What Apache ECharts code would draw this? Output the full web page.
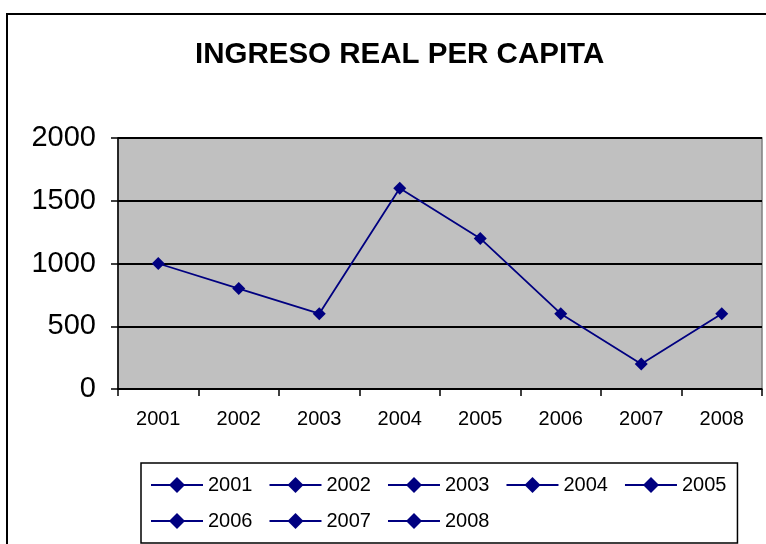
<!DOCTYPE html>
<html>
<head>
<meta charset="utf-8">
<script src="https://cdn.jsdelivr.net/npm/echarts@6/dist/echarts.min.js"></script>
<style>
  * { margin: 0; padding: 0; }
  body { background: #fff; }
</style>
</head>
<body>
<div id="chart" style="width:766px;height:544px;"></div>
<script>
// datos del grafico
var years = ['2001', '2002', '2003', '2004', '2005', '2006', '2007', '2008'];
var ingreso = [1000, 800, 600, 1600, 1200, 600, 200, 600];
var yTicks = [0, 500, 1000, 1500, 2000];

var navy = '#000080';
var font = 'Liberation Sans, Arial, sans-serif';

var chart = echarts.init(document.getElementById('chart'));

// serie principal + series vacias solo para la leyenda (como en Excel)
var series = [{
  name: 'Ingreso',
  type: 'line',
  data: ingreso,
  symbol: 'diamond',
  symbolSize: 13,
  color: navy,
  lineStyle: { color: navy, width: 1.8 },
  itemStyle: { color: navy },
  z: 5
}];
years.forEach(function (y) {
  series.push({
    name: y,
    type: 'line',
    data: [],
    symbol: 'diamond',
    symbolSize: 13,
    color: navy,
    lineStyle: { color: navy, width: 1.8 },
    itemStyle: { color: navy }
  });
});

chart.setOption({
  animation: false,
  textStyle: { fontFamily: font },
  graphic: [{
    type: 'rect',
    shape: { x: 7, y: 14, width: 800, height: 600 },
    style: { fill: 'none', stroke: '#000', lineWidth: 2 },
    z: -1
  }],
  title: {
    text: 'INGRESO REAL PER CAPITA',
    left: 190,
    top: 35,
    textStyle: { fontSize: 29.5, fontWeight: 'bold', color: '#000', fontFamily: font }
  },
  legend: {
    data: years,
    left: 141,
    top: 463,
    width: 600,
    padding: [12, 11, 12, 9],
    itemGap: 16,
    itemWidth: 52,
    itemHeight: 20,
    borderColor: '#000',
    borderWidth: 1.5,
    textStyle: { fontSize: 20, color: '#000', fontFamily: font }
  },
  grid: {
    left: 118,
    right: 4,
    top: 138,
    bottom: 155,
    show: true,
    backgroundColor: '#c0c0c0',
    borderColor: '#808080',
    borderWidth: 1.5
  },
  xAxis: {
    type: 'category',
    data: years,
    boundaryGap: true,
    axisLine: { lineStyle: { color: '#000', width: 1.5 } },
    axisTick: { show: true, alignWithLabel: false, length: 7, lineStyle: { color: '#000', width: 1.5 } },
    axisLabel: { fontSize: 20, color: '#000', margin: 20, fontFamily: font },
    splitLine: { show: false }
  },
  yAxis: {
    type: 'value',
    min: yTicks[0],
    max: yTicks[yTicks.length - 1],
    interval: 500,
    axisLine: { show: true, lineStyle: { color: '#000', width: 1.5 } },
    axisTick: { show: true, inside: false, length: 7, lineStyle: { color: '#000', width: 1.5 } },
    axisLabel: {
      fontSize: 29, color: '#000', margin: 22, fontFamily: font,
      formatter: function (v) { return String(v); }
    },
    splitLine: { show: true, lineStyle: { color: '#000', width: 2 } }
  },
  series: series
});
</script>
</body>
</html>
